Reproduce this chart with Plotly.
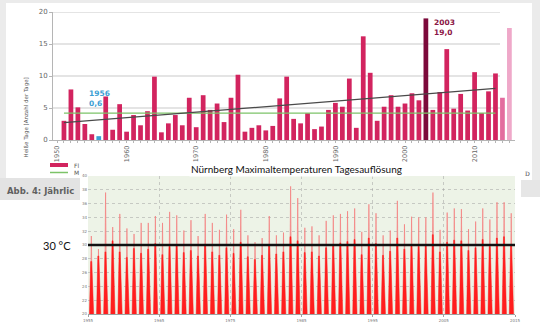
import numpy as np
import plotly.graph_objects as go

W, H = 540, 324

# ---------------- data: top chart (hot days per year, Nürnberg) ----------------
years_top = list(range(1951, 2016))
hot_days = [
    3.0, 7.9, 5.1, 2.5, 0.9, 0.6, 6.8, 1.6, 5.6, 1.3,      # 1951-1960
    3.9, 2.3, 4.5, 9.9, 1.2, 2.6, 3.9, 2.3, 6.6, 2.0,      # 1961-1970
    7.0, 4.7, 5.7, 2.8, 6.6, 10.2, 1.3, 1.9, 2.3, 1.5,     # 1971-1980
    2.2, 6.5, 9.9, 3.3, 2.6, 4.2, 1.7, 2.1, 4.7, 5.8,      # 1981-1990
    5.2, 9.6, 1.9, 16.2, 10.5, 3.0, 5.2, 7.0, 5.2, 5.7,    # 1991-2000
    7.3, 6.2, 19.0, 4.7, 7.5, 14.2, 4.9, 7.2, 4.6, 10.6,   # 2001-2010
    4.2, 7.6, 10.4, 6.6, 17.5,                             # 2011-2015
]
x_ticks_top = [1950, 1960, 1970, 1980, 1990, 2000, 2010]
y_ticks_top = [0, 5, 10, 15, 20]

# ---------------- data: bottom chart (daily max temps, annual summer spikes) ----------------
years_bot = list(range(1955, 2015))
peak_tmax = [
    31.3, 29.4, 37.6, 32.6, 34.5, 32.4, 31.6, 33.2, 33.2, 34.2,
    33.2, 34.8, 34.3, 32.1, 33.6, 31.3, 34.5, 33.2, 32.2, 34.4,
    32.3, 35.1, 31.4, 30.4, 31.0, 34.2, 31.4, 31.8, 38.5, 36.8,
    32.5, 32.7, 31.4, 33.5, 34.3, 34.5, 34.9, 35.3, 31.9, 35.9,
    34.6, 31.4, 32.1, 36.4, 33.0, 34.1, 34.0, 34.0, 37.6, 32.2,
    34.7, 35.3, 35.2, 32.3, 33.4, 35.3, 33.7, 36.2, 36.2, 34.6,
]
summer_tmax = [
    27.6, 28.4, 29.0, 30.6, 29.0, 28.2, 29.5, 28.8, 29.4, 30.2,
    28.6, 29.8, 30.0, 28.9, 29.2, 28.4, 30.1, 29.0, 28.5, 29.6,
    28.8, 30.4, 28.3, 27.9, 28.5, 29.9, 28.7, 29.0, 31.2, 30.6,
    28.9, 29.0, 28.4, 29.6, 30.0, 30.3, 30.5, 30.8, 28.6, 31.0,
    30.2, 28.5, 29.1, 31.0, 29.4, 30.0, 29.8, 29.9, 31.5, 29.0,
    30.4, 30.7, 30.6, 29.2, 29.6, 30.8, 29.8, 31.0, 31.2, 30.1,
]
x_ticks_bot = [1955, 1965, 1975, 1985, 1995, 2005, 2015]
threshold = 30


def px(x):
    return x / W


def py(y):
    return 1 - y / H


# top chart geometry: 1950 at px 57, 6.96 px / year
def year_at(p):
    return 1950 + (p - 57) / 6.96


top_x_range = [year_at(53), year_at(515)]
grid_end = year_at(500)

fig = go.Figure()

# ---- top bars ----
colors = []
for y in years_top:
    if y == 1956:
        colors.append("#3d9fd4")
    elif y == 2003:
        colors.append("#7c0a3b")
    elif y == 2014:
        colors.append("#e36c9f")
    elif y == 2015:
        colors.append("#efa8c9")
    else:
        colors.append("#d2245f")

fig.add_trace(go.Bar(x=years_top, y=hot_days, marker=dict(color=colors, line=dict(width=0)),
                     width=0.68, xaxis="x", yaxis="y", showlegend=False))

# mean 1961-1990 and linear trend 1951-2013
yrs_fit = np.array([y for y in years_top if y <= 2013])
vals_fit = np.array(hot_days[:len(yrs_fit)])
ref_mask = (yrs_fit >= 1961) & (yrs_fit <= 1990)
ref_mean = float(vals_fit[ref_mask].mean())
coef = np.polyfit(yrs_fit, vals_fit, 1)
trend = np.polyval(coef, yrs_fit)

fig.add_trace(go.Scatter(x=[yrs_fit[0], yrs_fit[-1]], y=[ref_mean, ref_mean], mode="lines",
                         line=dict(color="#7cc368", width=1.3), xaxis="x", yaxis="y", showlegend=False))
fig.add_trace(go.Scatter(x=yrs_fit, y=trend, mode="lines",
                         line=dict(color="#4a4a4a", width=1.2), xaxis="x", yaxis="y", showlegend=False))

# ---- bottom spikes ----
pk_x, pk_y, bd_x, bd_y = [], [], [], []
for y, p, b in zip(years_bot, peak_tmax, summer_tmax):
    pk_x += [y + 0.32, y + 0.47, y + 0.62, None]
    pk_y += [20, p, 20, None]
    bd_x += [y + 0.20, y + 0.38, y + 0.52, y + 0.80, None]
    bd_y += [20, b, b, 20, None]

fig.add_trace(go.Scatter(x=pk_x, y=pk_y, mode="lines", fill="toself",
                         fillcolor="rgba(247,150,150,0.8)", line=dict(width=0.8, color="rgba(245,125,125,0.85)"),
                         xaxis="x2", yaxis="y2", showlegend=False, hoverinfo="skip"))
fig.add_trace(go.Scatter(x=bd_x, y=bd_y, mode="lines", fill="toself",
                         fillcolor="#ff1e1e", line=dict(width=0.5, color="#ff1e1e"),
                         xaxis="x2", yaxis="y2", showlegend=False, hoverinfo="skip"))

shapes = []
gray_frame = "#ebebeb"
# frame strips around the top image
shapes.append(dict(type="rect", xref="paper", yref="paper", x0=0, x1=px(6), y0=py(178), y1=1,
                   fillcolor=gray_frame, line=dict(width=0), layer="below"))
shapes.append(dict(type="rect", xref="paper", yref="paper", x0=0, x1=1, y0=py(3), y1=1,
                   fillcolor=gray_frame, line=dict(width=0), layer="below"))
shapes.append(dict(type="rect", xref="paper", yref="paper", x0=px(532), x1=1, y0=py(180), y1=1,
                   fillcolor=gray_frame, line=dict(width=0), layer="below"))
# caption box left + gray box right
shapes.append(dict(type="rect", xref="paper", yref="paper", x0=0, x1=px(80), y0=py(200), y1=py(178),
                   fillcolor="#e3e3e3", line=dict(width=0), layer="below"))
shapes.append(dict(type="rect", xref="paper", yref="paper", x0=px(521), x1=1, y0=py(197), y1=py(180),
                   fillcolor="#e6e6e6", line=dict(width=0), layer="below"))
# bottom panel background
shapes.append(dict(type="rect", xref="x2 domain", yref="y2 domain", x0=0, x1=1, y0=0, y1=1,
                   fillcolor="#edf3e7", line=dict(width=0), layer="below"))
# top chart gridlines
for v in y_ticks_top[1:]:
    shapes.append(dict(type="line", xref="x", yref="y", x0=top_x_range[0], x1=grid_end, y0=v, y1=v,
                       line=dict(color="#c9c9c9", width=1.2), layer="below"))
# threshold line
shapes.append(dict(type="line", xref="x2 domain", yref="y2", x0=0, x1=1, y0=threshold, y1=threshold,
                   line=dict(color="#111111", width=2.5), layer="above"))
# legend lines (top chart)
shapes.append(dict(type="line", xref="paper", yref="paper", x0=px(50), x1=px(68), y0=py(165), y1=py(165),
                   line=dict(color="#d2245f", width=4)))
shapes.append(dict(type="line", xref="paper", yref="paper", x0=px(50), x1=px(68), y0=py(172.5), y1=py(172.5),
                   line=dict(color="#7cc368", width=1.5)))

annotations = [
    dict(text="<b>1956</b><br><b>0,6</b>", x=px(87), y=py(87), xref="paper", yref="paper",
         xanchor="left", yanchor="top", align="left", showarrow=False,
         font=dict(family="DejaVu Sans", size=7.5, color="#3d9fd4")),
    dict(text="<b>2003</b><br><b>19,0</b>", x=px(432), y=py(16), xref="paper", yref="paper",
         xanchor="left", yanchor="top", align="left", showarrow=False,
         font=dict(family="DejaVu Sans", size=7.5, color="#8b1545")),
    dict(text="Heiße Tage [Anzahl der Tage]", x=px(21), y=py(76), xref="paper", yref="paper",
         textangle=-90, showarrow=False, font=dict(family="DejaVu Sans", size=5.5, color="#555555")),
    dict(text="Fl", x=px(72), y=py(165), xref="paper", yref="paper", xanchor="left", showarrow=False,
         font=dict(family="DejaVu Sans", size=6, color="#555555")),
    dict(text="M", x=px(72), y=py(172.5), xref="paper", yref="paper", xanchor="left", showarrow=False,
         font=dict(family="DejaVu Sans", size=6, color="#555555")),
    dict(text="<b>Abb. 4: Jährlic</b>", x=px(5), y=py(191), xref="paper", yref="paper", xanchor="left",
         showarrow=False, font=dict(family="DejaVu Sans", size=8.5, color="#606060")),
    dict(text="D", x=px(523), y=py(173), xref="paper", yref="paper", xanchor="left",
         showarrow=False, font=dict(family="DejaVu Serif", size=6, color="#444444")),
    dict(text="Nürnberg Maximaltemperaturen Tagesauflösung", x=px(296), y=py(169), xref="paper", yref="paper",
         showarrow=False, bgcolor="white", font=dict(family="Lato", size=10, color="#111111")),
    dict(text="30 °C", x=px(73), y=py(245.5), xref="paper", yref="paper", xanchor="right", yanchor="middle",
         showarrow=False, font=dict(family="Lato", size=11, color="#111111")),
]

fig.update_layout(
    width=W, height=H, margin=dict(l=0, r=0, t=0, b=0, autoexpand=False),
    paper_bgcolor="white", plot_bgcolor="rgba(0,0,0,0)",
    shapes=shapes, annotations=annotations, bargap=0.3,
    xaxis=dict(domain=[px(53), px(515)], range=top_x_range, anchor="y", automargin=False,
               tickmode="array", tickvals=x_ticks_top, ticktext=[str(v) for v in x_ticks_top],
               tickangle=-90, tickfont=dict(family="DejaVu Sans", size=6.5, color="#666666"),
               showgrid=False, zeroline=False, showline=True, linecolor="#b5b5b5", linewidth=1,
               ticks="outside", ticklen=2, tickcolor="#b5b5b5",
               minor=dict(dtick=1, ticks="outside", ticklen=2, tickcolor="#b5b5b5", showgrid=False)),
    yaxis=dict(domain=[py(140), py(12)], range=[0, 20], anchor="x", automargin=False,
               tickmode="array", tickvals=y_ticks_top, ticktext=[str(v) for v in y_ticks_top],
               tickfont=dict(family="DejaVu Sans", size=7, color="#666666"),
               showgrid=False, zeroline=False, showline=True, linecolor="#b5b5b5",
               ticks="outside", ticklen=3, tickcolor="#b5b5b5"),
    xaxis2=dict(domain=[px(88), px(515)], range=[1955, 2015], anchor="y2", automargin=False,
                tickmode="array", tickvals=x_ticks_bot, ticktext=[str(v) for v in x_ticks_bot],
                tickfont=dict(family="DejaVu Sans", size=4, color="#777777"),
                showgrid=True, gridcolor="rgba(150,150,150,0.45)", griddash="dot", gridwidth=0.7,
                zeroline=False, showline=True, linecolor="#a0a0a0", ticks="outside", ticklen=2,
                tickcolor="#a0a0a0"),
    yaxis2=dict(domain=[py(314), py(176)], range=[20, 40], anchor="x2", dtick=2, automargin=False,
                tickfont=dict(family="DejaVu Sans", size=4, color="#777777"),
                showgrid=True, gridcolor="rgba(150,150,150,0.45)", griddash="dot", gridwidth=0.7,
                zeroline=False, showline=False, ticks=""),
)

fig.write_html("out.html")
